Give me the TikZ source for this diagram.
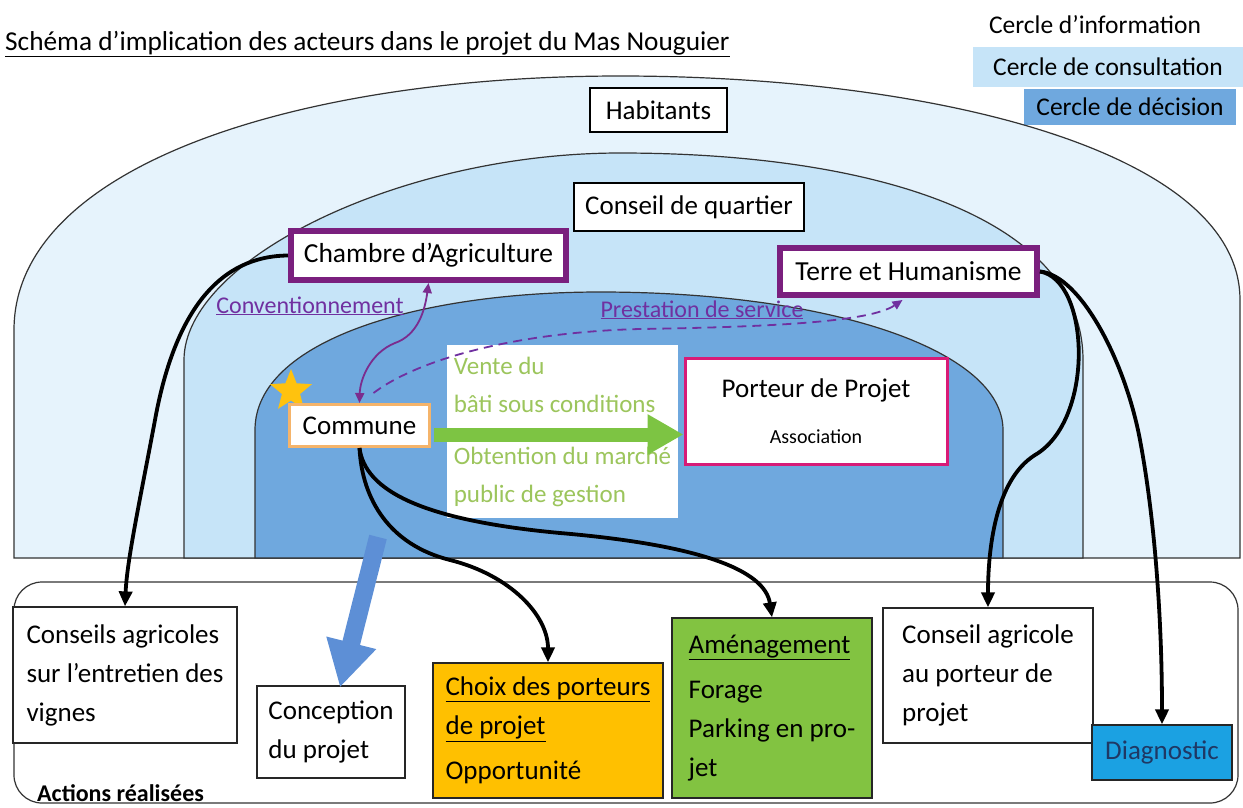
\documentclass[tikz,border=0pt]{standalone}
\usepackage{fontspec}
\setmainfont{Carlito}
\usetikzlibrary{arrows.meta,shapes.geometric,calc}
\definecolor{infocol}{HTML}{E6F3FC}
\definecolor{conscol}{HTML}{C6E4F8}
\definecolor{deccol}{HTML}{6FA8DE}
\definecolor{purplebd}{HTML}{7A1F7E}
\definecolor{pinkbd}{HTML}{D81B77}
\definecolor{orangebd}{HTML}{F5B46A}
\definecolor{greenarr}{HTML}{7DC443}
\definecolor{greentxt}{HTML}{9CC55C}
\definecolor{labpurple}{HTML}{7030A0}
\definecolor{arrpurple}{HTML}{7B2C8E}
\definecolor{choixfill}{HTML}{FFC000}
\definecolor{amenfill}{HTML}{82C341}
\definecolor{diagfill}{HTML}{1BA1E2}
\definecolor{bluearr}{HTML}{5D8FD6}
\definecolor{starcol}{HTML}{FFC20E}
\definecolor{navytxt}{HTML}{1F3864}
\newcommand{\fsz}[2]{\fontsize{#1}{#2}\selectfont}
\begin{document}
\begin{tikzpicture}[x=1pt,y=-1pt,
  circ/.style={draw=black!80, line width=1.2pt},
  lbl/.style={draw=black, line width=2.2pt, fill=white, inner sep=0pt, font=\fsz{27}{32}},
  actor/.style={draw=purplebd, line width=6pt, fill=white, inner sep=0pt, font=\fsz{27.5}{32}},
  act/.style={draw=black!85, line width=1.2pt, fill=white, align=left, inner sep=0pt, font=\fsz{27}{39}},
  conn/.style={line width=3.8pt, -{Triangle[length=15pt,width=13pt]}},
  reltxt/.style={text=labpurple, font=\fsz{24}{28}, anchor=base},
  smalltips/.style={{Triangle[length=10pt,width=9pt]}-{Triangle[length=10pt,width=9pt]}},
  smalltip/.style={-{Triangle[length=10pt,width=9pt]}}
]
\useasboundingbox (0,0) rectangle (1243,807);
\fill[white] (0,0) rectangle (1243,807);

% title
\node[anchor=base west, font=\fsz{27.3}{32}, inner sep=0pt] (title) at (5,50) {\underline{Schéma d’implication des acteurs dans le projet du Mas Nouguier}};

% legend
\node[font=\fsz{25.5}{30}, anchor=base, inner sep=0pt] (leg1) at (1095,33) {Cercle d’information};
\node[fill=conscol, minimum width=270pt, minimum height=40pt, inner sep=0pt, font=\fsz{25.5}{30}] (leg2) at (1108,67) {Cercle de consultation};
\node[fill=deccol, minimum width=212pt, minimum height=36pt, inner sep=0pt, font=\fsz{25.5}{30}] (leg3) at (1130,107) {Cercle de décision};

% circles
\filldraw[circ, fill=infocol] (14,558) -- (14,330) .. controls (14,165) and (300,76) .. (620,76) .. controls (930,76) and (1240,150) .. (1240,300) -- (1240,558) -- cycle;
\filldraw[circ, fill=conscol] (184,558) -- (184,360) .. controls (184,260) and (400,153) .. (620,153) .. controls (880,153) and (1083,220) .. (1083,360) -- (1083,558) -- cycle;
\filldraw[circ, fill=deccol] (255,558) -- (255,430) .. controls (255,340) and (420,292) .. (600,292) .. controls (830,292) and (1003,350) .. (1003,430) -- (1003,558) -- cycle;

% actors
\node[lbl, minimum width=137pt, minimum height=44pt] (hab) at (658.5,110) {Habitants};
\node[lbl, minimum width=230pt, minimum height=48pt] (cq) at (689,207) {Conseil de quartier};
\node[actor, minimum width=275pt, minimum height=49pt] (cham) at (428.5,255.5) {Chambre d’Agriculture};
\node[actor, minimum width=257pt, minimum height=47pt] (terre) at (908.5,271.5) {Terre et Humanisme};
\node[star, star points=5, star point ratio=2.3, fill=starcol, minimum size=44pt, inner sep=0pt] (star) at (291,391) {};
\node[draw=orangebd, line width=3pt, fill=white, minimum width=140pt, minimum height=42pt, inner sep=0pt, font=\fsz{27}{32}] (comm) at (359.5,425.5) {Commune};
\node[fill=white, minimum width=231pt, minimum height=173pt, inner sep=0pt, align=left, font=\fsz{25}{38}, text=greentxt] (vente) at (562.5,431.5) {Vente du\\bâti sous conditions\\[14pt]Obtention du marché\\public de gestion};
\node[draw=pinkbd, line width=3pt, fill=white, minimum width=262pt, minimum height=106pt, inner sep=0pt, align=center, font=\fsz{27}{32}] (port) at (816,411) {Porteur de Projet\\[14pt]{\fsz{20}{24}Association}};

% actions
\node[draw=black!80, line width=1.2pt, rounded corners=28pt, fill=white, minimum width=1224pt, minimum height=221pt, inner sep=0pt] (actions) at (626,692.5) {};
\node[anchor=base west, font=\bfseries\fsz{24}{28}, inner sep=0pt] (actlbl) at (37,801) {Actions réalisées};
\node[act, minimum width=224pt, minimum height=136pt] (vign) at (125,675) {Conseils agricoles\\sur l’entretien des\\vignes};
\node[act, minimum width=148pt, minimum height=92pt] (conc) at (331,732) {Conception\\du projet};
\node[act, fill=choixfill, minimum width=230pt, minimum height=135pt] (choix) at (548,730.5) {\underline{Choix des porteurs}\\\underline{de projet}\\[6pt]Opportunité};
\node[act, fill=amenfill, minimum width=200pt, minimum height=180pt] (amen) at (772,708) {\underline{Aménagement}\\[6pt]Forage\\Parking en pro-\\jet};
\node[act, minimum width=210pt, minimum height=135pt] (cagr) at (988,675.5) {Conseil agricole\\au porteur de\\projet};
\node[act, fill=diagfill, text=navytxt, minimum width=140pt, minimum height=55pt, align=center] (diag) at (1162,752.5) {Diagnostic};

% relation labels
\node[reltxt] (conv) at (310,313) {\underline{Conventionnement}};
\node[reltxt] (prest) at (702,317) {\underline{Prestation de service}};

% green arrow
\coordinate (ga) at ($(comm.east)+(3,9)$);
\draw[greenarr, line width=14pt, -{Triangle[length=36pt,width=38pt]}] (ga) -- (ga -| port.west);

% black connectors
\draw[conn] (cham.west) .. controls (220,256) and (175,310) .. (155,420) .. controls (140,500) and (127,560) .. (vign.north);
\draw[conn] (comm.south) .. controls (362,500) and (390,545) .. (450,560) .. controls (510,575) and (548,615) .. (choix.north);
\draw[conn] (comm.south) .. controls (365,490) and (420,520) .. (560,533) .. controls (700,545) and (765,570) .. (amen.north);
\draw[conn] (terre.east) .. controls (1090,280) and (1095,420) .. (1035,455) .. controls (995,480) and (988,550) .. (cagr.north);
\draw[conn] (terre.east) .. controls (1080,275) and (1125,360) .. (1140,440) .. controls (1155,520) and (1162,620) .. (diag.north);

% blue arrow
\coordinate (bs) at (378,537);
\draw[bluearr, line width=18pt, -{Triangle[length=46pt,width=48pt]}] (bs) -- ($(conc.north)+(9,2)$);

% purple relations
\draw[arrpurple, line width=1.8pt, smalltips] (cham.south) .. controls (425,310) and (418,335) .. (395,343) .. controls (370,353) and (360,380) .. (comm.north);
\draw[labpurple, line width=1.8pt, dash pattern=on 9pt off 6pt, smalltip] ($(comm.north)+(14,-10)$) .. controls (420,358) and (520,332) .. (640,329) .. controls (770,327) and (870,322) .. ($(terre.south)+(-6,2)$);
\end{tikzpicture}
\end{document}
